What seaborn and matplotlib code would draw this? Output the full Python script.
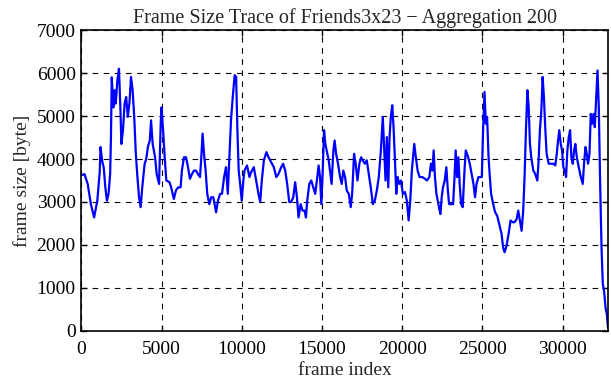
import pandas as pd
import seaborn as sns
import matplotlib
matplotlib.use('Agg')
import matplotlib.pyplot as plt

# values (frame index, aggregated frame size)
frame_index = [0, 200, 400, 600, 800, 1000, 1150, 1200, 1300, 1400, 1500, 1600, 1700, 1800, 1850,
               1900, 2000, 2080, 2150, 2250, 2350, 2450, 2500, 2600, 2700, 2800, 2900, 3000, 3100,
               3200, 3300, 3400, 3500, 3600, 3700, 3800, 3950, 4050, 4150, 4270, 4350, 4450, 4600,
               4700, 4850, 4950,
               5000, 5100, 5200, 5300, 5500, 5600, 5770, 5900, 6040, 6190, 6270, 6400, 6530, 6650,
               6770, 6900, 7020, 7150, 7270, 7400, 7480, 7560, 7650, 7750, 7850, 7980, 8100, 8230,
               8400, 8520, 8650, 8770, 8900, 9020, 9130, 9230, 9330, 9440, 9560, 9650, 9730, 9810,
               9900, 10000, 10100,
               10170, 10330, 10480, 10580, 10750, 10900, 11040, 11150, 11250, 11380, 11540, 11670,
               11830, 12000, 12150, 12290, 12460, 12580, 12710, 12830, 12960, 13080, 13210, 13330,
               13440, 13540, 13670, 13790, 13920, 14000, 14080, 14210, 14330, 14460, 14580, 14710,
               14790, 14880, 14960, 15040, 15130, 15210, 15290, 15420,
               15500, 15600, 15710, 15790, 15880, 16000, 16130, 16230, 16330, 16440, 16540, 16670,
               16790, 16880, 17000, 17100, 17210, 17330, 17440, 17540, 17670, 17790, 17920, 18040,
               18170, 18290, 18420, 18540, 18670, 18790, 18880, 18960, 19040, 19130, 19210, 19290,
               19380, 19460, 19540, 19630, 19710, 19810, 19920, 20040, 20170, 20290, 20400, 20500,
               20600,
               20750, 20850, 20960, 21080, 21250, 21420, 21540, 21690, 21790, 21880, 21960, 22040,
               22130, 22210, 22290, 22380, 22460, 22540, 22650, 22750, 22830, 22920, 23040, 23170,
               23250, 23330, 23420, 23500, 23580, 23670, 23770, 23880, 23960, 24080, 24210, 24330,
               24440, 24540, 24630, 24750, 24880, 24960, 25040, 25130, 25210, 25290, 25380, 25460,
               25540, 25670, 25790, 25920, 26040,
               26190, 26290, 26380, 26500, 26630, 26750, 26880, 27000, 27130, 27230, 27330, 27440,
               27540, 27630, 27710, 27800, 27880, 27960, 28040, 28170, 28290, 28420, 28500, 28580,
               28670, 28750, 28830, 28920, 29000, 29130, 29250, 29420, 29540, 29630, 29710, 29790,
               29880, 29960, 30040, 30130, 30210, 30290, 30380, 30460, 30540, 30630, 30710, 30790,
               30880, 31000, 31130, 31250, 31330, 31420, 31500, 31580, 31670, 31750, 31830, 31920,
               32000, 32080, 32170, 32250, 32330, 32420, 32500, 32580, 32670, 32750, 32820]

frame_size = [3620, 3650, 3420, 2950, 2640, 3030, 3700, 4280, 3960, 3800, 3340, 3030, 3190, 3650, 4500,
              5900, 5200, 5600, 5290, 5830, 6100, 5050, 4350, 4670, 5290, 5440, 4980, 5290, 5910,
              5600, 4980, 4120, 3580, 3110, 2880, 3340, 3890, 4000, 4280, 4430, 4900, 4350, 4040,
              3650, 3420, 4820,
              5200, 4670, 4040, 3500, 3460, 3340, 3070, 3270, 3340, 3340, 3730, 4040, 4040, 3810,
              3540, 3650, 3730, 3730, 3650, 3580, 4040, 4590, 4120, 3730, 3190, 2950, 3110, 3110,
              2760, 3030, 3190, 3190, 3580, 3810, 3190, 4040, 4900, 5440, 5950, 5910, 4670, 3730,
              3420, 3030, 3500,
              3730, 3850, 3580, 3690, 3810, 3500, 3190, 3000, 3500, 3970, 4160, 4040,
              3930, 3810, 3580, 3650, 3810, 3890, 3730, 3420, 3000, 3000, 3110, 3460,
              3110, 2640, 2950, 2800, 2800, 2640, 3030, 3420, 3500, 3340, 3190, 3580,
              3850, 3580, 2950, 3650, 4670, 4350, 4200, 3970,
              3730, 3420, 4200, 4430, 4120, 3890, 3580, 3420, 3730, 3580, 3270, 3190,
              2880, 3190, 4120, 3890, 3500, 3890, 4040, 3970, 3890, 3970, 3650, 3340,
              2950, 3030, 3270, 3580, 4200, 4980, 4200, 3500, 4510, 3340, 4510, 4980,
              5250, 4740, 4040, 3190, 3580, 3420, 3500, 3190, 3230, 3030, 2570, 3030,
              3730,
              4350, 4040, 3730, 3580, 3580, 3540, 3500, 3580, 3890, 3730, 4200, 3580,
              3190, 3030, 2880, 2720, 3110, 3340, 3500, 3810, 3340, 2950, 2950, 2950,
              3500, 4200, 3580, 4040, 3420, 2950, 2880, 3730, 4200, 4080, 3890, 3650,
              3420, 3110, 3420, 3580, 3580, 3580, 4670, 5560, 4820, 4980, 4040, 3580,
              3190, 2950, 2760, 2680, 2490,
              2260, 1940, 1830, 1980, 2260, 2570, 2530, 2530, 2600, 2800, 2570, 2330,
              2800, 3650, 4670, 5600, 5210, 4350, 4040, 3730, 3650, 3500, 3970, 4670,
              5130, 5910, 5440, 4670, 4120, 3890, 3890, 3890, 3850, 4120, 4430, 4670,
              4350, 4200, 3810, 3730, 3580, 4200, 4510, 4670, 4040, 3890, 4200, 4350,
              4040, 3810, 3580, 3420, 3890, 4280, 4120, 3890, 4120, 5050, 4820, 5050,
              4740, 5360, 6060, 5210, 3500, 1940, 1090, 930, 540, 390, 80]

x_ticks = [0, 5000, 10000, 15000, 20000, 25000, 30000]
y_ticks = [0, 1000, 2000, 3000, 4000, 5000, 6000, 7000]

df = pd.DataFrame({'frame index': frame_index, 'frame size': frame_size})

sns.set_style('ticks')
plt.rcParams['font.family'] = ['Liberation Serif', 'DejaVu Serif']

fig = plt.figure(figsize=(6.11, 3.8), dpi=100)
ax = fig.add_axes([0.133, 0.129, 0.862, 0.792])

sns.lineplot(data=df, x='frame index', y='frame size', color='#0000ff', linewidth=1.6, ax=ax)

ax.set_xlim(0, 32820)
ax.set_ylim(0, 7000)
ax.set_xticks(x_ticks)
ax.set_yticks(y_ticks)
ax.grid(True, color='black', linestyle=(0, (5, 5)), linewidth=0.8)
ax.tick_params(direction='in', top=True, right=True, length=4, width=1, labelsize=14,
               colors='black', pad=4)
ax.tick_params(axis='x', pad=7)
for s in ax.spines.values():
    s.set_linewidth(1.2)
    s.set_color('black')

ax.set_xlabel('frame index', fontsize=14, labelpad=3)
ax.set_ylabel('frame size [byte]', fontsize=14, labelpad=4)
ax.set_title('Frame Size Trace of Friends3x23 \u2212 Aggregation 200', fontsize=14.5, pad=5)

fig.savefig('out.png', dpi=100)
